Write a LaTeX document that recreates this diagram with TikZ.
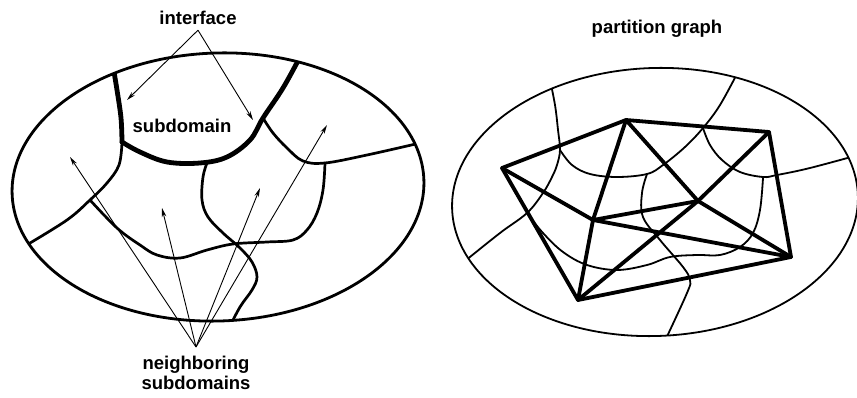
\documentclass[tikz,border=0pt]{standalone}
\usepackage{fontspec}
\setmainfont{Liberation Sans}
\usetikzlibrary{arrows.meta}

\begin{document}
\begin{tikzpicture}[x=1pt, y=-1pt,
  lbl/.style={font=\fontsize{18.5}{20}\selectfont\bfseries, inner sep=2pt, align=center},
  rim/.style={line width=2.8pt},
  ifc/.style={line width=4.8pt, line cap=round},
  part/.style={line width=2.7pt, line cap=round},
  thinpart/.style={line width=1.8pt, line cap=round},
  gedge/.style={line width=3.8pt, line cap=round},
  ptr/.style={line width=0.9pt, -{Stealth[length=9pt,width=4.5pt]}}]
\useasboundingbox (0,0) rectangle (857,398);

% left: subdomains and interfaces
\begin{scope}
\clip[rotate around={2:(218,187)}] (218,187) ellipse [x radius=206, y radius=134];
\draw[ifc] plot[smooth, tension=0.6] coordinates {(112,60) (117,90) (121,118) (122,142)};
\draw[ifc] plot[smooth, tension=0.6] coordinates {(122,142) (140,152) (167,162) (200,163) (227,157) (250,140) (263,118) (283,88) (300,57)};
\draw[part] plot[smooth, tension=0.6] coordinates {(122,142) (119,165) (107,183) (90,200) (67,220) (25,246)};
\draw[part] plot[smooth, tension=0.6] coordinates {(90,200) (117,228) (140,245) (157,255) (180,258) (207,250) (233,244) (267,242) (293,240) (307,230) (317,213) (323,190) (325,163)};
\draw[part] plot[smooth, tension=0.6] coordinates {(263,118) (273,133) (287,148) (303,161) (325,163) (367,155) (420,143)};
\draw[part] plot[smooth, tension=0.6] coordinates {(207,163) (203,177) (202,200) (208,217) (223,233) (240,248) (252,262) (257,277) (252,290) (240,307) (228,330)};
\end{scope}
\draw[rim, rotate around={2:(218,187)}] (218,187) ellipse [x radius=206, y radius=134];

\node[lbl, anchor=base] (sub) at (182,133) {subdomain};
\node[lbl, anchor=base, outer sep=3pt] (ifcl) at (198,25) {interface};
\node[lbl, anchor=north, outer sep=7pt] (nbr) at (196,347) {neighboring\\subdomains};

\coordinate (ifcA) at (127,100);
\coordinate (ifcB) at (253,120);
\coordinate (nbrA) at (70,157);
\coordinate (nbrB) at (162,208);
\coordinate (nbrC) at (260,188);
\coordinate (nbrD) at (327,125);
\draw[ptr] (ifcl.south) -- (ifcA);
\draw[ptr] (ifcl.south) -- (ifcB);
\foreach \t in {nbrA,nbrB,nbrC,nbrD}
  \draw[ptr] (nbr.north) -- (\t);

% right: partition graph
\begin{scope}
\clip[rotate around={2:(655,202)}] (655,202) ellipse [x radius=203, y radius=134];
\draw[thinpart] plot[smooth, tension=0.6] coordinates {(549,75) (555,105) (558,130) (560,150) (557,165) (552,177) (543,193) (527,213) (500,233) (465,261)};
\draw[thinpart] plot[smooth, tension=0.6] coordinates {(560,150) (572,165) (590,174) (617,177) (647,174) (663,165) (685,147) (703,128) (720,105) (739,70)};
\draw[thinpart] plot[smooth, tension=0.6] coordinates {(703,128) (710,145) (722,160) (740,172) (763,177) (777,175) (810,168) (862,154)};
\draw[thinpart] plot[smooth, tension=0.6] coordinates {(647,174) (642,193) (643,217) (660,240) (683,267) (690,280) (687,293) (663,345)};
\draw[thinpart] plot[smooth, tension=0.6] coordinates {(527,213) (543,233) (563,252) (587,265) (617,270) (647,265) (670,257) (697,255) (720,255) (740,247) (753,233) (760,210) (763,178)};
\end{scope}
\draw[thinpart, rotate around={2:(655,202)}] (655,202) ellipse [x radius=203, y radius=134];

\node[lbl, anchor=base] (pg) at (657,34) {partition graph};

\coordinate (pA) at (502,168);
\coordinate (pB) at (626,120);
\coordinate (pC) at (769,132);
\coordinate (pD) at (791,257);
\coordinate (pE) at (578,300);
\coordinate (pF) at (593,220);
\coordinate (pG) at (698,201);
\foreach \u/\v in {pA/pB, pB/pC, pC/pD, pD/pE, pE/pA, pA/pF, pF/pB, pF/pE, pF/pG, pF/pD, pG/pB, pG/pC, pG/pD, pG/pE}
  \draw[gedge] (\u) -- (\v);
\end{tikzpicture}
\end{document}
